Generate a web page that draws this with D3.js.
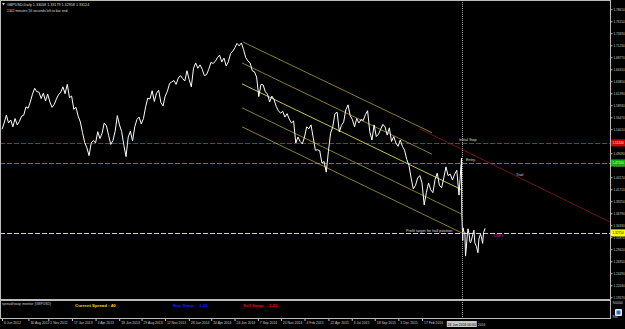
<!DOCTYPE html>
<html>
<head>
<meta charset="utf-8">
<script src="https://cdn.jsdelivr.net/npm/d3@7"></script>
<style>
  body { margin: 0; background: #000; }
  svg text { font-family: "Liberation Sans", "DejaVu Sans", sans-serif; }
</style>
</head>
<body>
<script>
var width = 625, height = 329;

// GBPUSD weekly closes, first one on 6 Jun 2012
var firstWeek = "2012-06-06";
var weeklyCloses = [
  1.540, 1.553, 1.569, 1.553, 1.559, 1.545, 1.562, 1.549, 1.556, 1.567,
  1.569, 1.586, 1.583, 1.596, 1.612, 1.624, 1.617, 1.616, 1.603, 1.614,
  1.598, 1.612, 1.596, 1.585, 1.591, 1.602, 1.611, 1.616, 1.627, 1.613,
  1.632, 1.605, 1.608, 1.581, 1.585, 1.567, 1.555, 1.533, 1.513, 1.502,
  1.486, 1.512, 1.517, 1.512, 1.535, 1.521, 1.532, 1.553, 1.547, 1.527,
  1.509, 1.517, 1.536, 1.568, 1.549, 1.535, 1.507, 1.484, 1.524, 1.536,
  1.516, 1.545, 1.560, 1.565, 1.551, 1.562, 1.586, 1.604, 1.602, 1.619,
  1.597, 1.614, 1.620, 1.595, 1.588, 1.608, 1.618, 1.634, 1.637, 1.640,
  1.632, 1.645, 1.650, 1.644, 1.639, 1.660, 1.642, 1.627, 1.665, 1.676,
  1.665, 1.672, 1.663, 1.650, 1.652, 1.663, 1.677, 1.675, 1.679, 1.687,
  1.692, 1.678, 1.686, 1.670, 1.678, 1.695, 1.700, 1.707, 1.716, 1.711,
  1.717, 1.703, 1.687, 1.680, 1.676, 1.660, 1.658, 1.647, 1.607, 1.632,
  1.631, 1.617, 1.612, 1.596, 1.608, 1.601, 1.587, 1.578, 1.573, 1.577,
  1.565, 1.572, 1.561, 1.553, 1.557, 1.512, 1.524, 1.515, 1.510, 1.524,
  1.545, 1.541, 1.549, 1.523, 1.497, 1.498, 1.496, 1.471, 1.474, 1.452,
  1.495, 1.532, 1.545, 1.572, 1.575, 1.535, 1.548, 1.555, 1.580, 1.590,
  1.568, 1.560, 1.545, 1.562, 1.553, 1.560, 1.558, 1.570, 1.578, 1.535,
  1.518, 1.549, 1.525, 1.530, 1.540, 1.550, 1.545, 1.528, 1.543, 1.515,
  1.525, 1.512, 1.505, 1.518, 1.505, 1.497, 1.478, 1.466, 1.440, 1.418,
  1.425, 1.440, 1.445, 1.430, 1.385, 1.410, 1.430, 1.416, 1.410, 1.437,
  1.450, 1.425, 1.420, 1.440, 1.463, 1.445, 1.448, 1.436, 1.448, 1.456,
  1.405, 1.470
];
// daily closes around and after the referendum
var lateDates = ["2016-06-23", "2016-06-24", "2016-06-27", "2016-06-28", "2016-06-30",
  "2016-07-04", "2016-07-06", "2016-07-08", "2016-07-12", "2016-07-14", "2016-07-18",
  "2016-07-20", "2016-07-22", "2016-07-26", "2016-07-29", "2016-08-02", "2016-08-05",
  "2016-08-10", "2016-08-15", "2016-08-18", "2016-08-23", "2016-08-26", "2016-08-30",
  "2016-09-02", "2016-09-07"];
var lateCloses = [1.481, 1.368, 1.312, 1.338, 1.331, 1.328, 1.280, 1.293, 1.325, 1.336,
  1.322, 1.310, 1.307, 1.315, 1.324, 1.333, 1.307, 1.300, 1.287, 1.315, 1.325, 1.320,
  1.306, 1.328, 1.337];

var priceTicks = [1.78610, 1.76150, 1.73690, 1.71230, 1.68770, 1.66310, 1.63850, 1.61390,
  1.58930, 1.56470, 1.54010, 1.51550, 1.49090, 1.46630, 1.44170, 1.41710, 1.39250,
  1.36790, 1.34330, 1.31870, 1.29410, 1.26950, 1.24490, 1.22030, 1.19570];

var dateTicks = ["2012-06-06", "2012-08-30", "2012-11-02", "2013-01-17", "2013-04-03",
  "2013-06-18", "2013-08-29", "2013-11-12", "2014-01-28", "2014-04-10", "2014-06-24",
  "2014-09-07", "2014-11-20", "2015-02-04", "2015-04-22", "2015-07-06", "2015-09-18",
  "2015-12-03", "2016-02-17"];
var dateTickLabels = ["6 Jun 2012", "30 Aug 2012", "2 Nov 2012", "17 Jan 2013", "3 Apr 2013",
  "18 Jun 2013", "29 Aug 2013", "12 Nov 2013", "28 Jan 2014", "10 Apr 2014", "24 Jun 2014",
  "7 Sep 2014", "20 Nov 2014", "4 Feb 2015", "22 Apr 2015", "6 Jul 2015", "18 Sep 2015",
  "3 Dec 2015", "17 Feb 2016"];

// horizontal trade levels
var levelNames = ["Initial Stop", "Entry", "Profit target for half position"];
var levelPrices = [1.51200, 1.47100, 1.32750];
var levelColors = ["#b82020", "#2e9a44", "#dede70"];
var levelBoxColors = ["#d00000", "#10b010", "#ffff00"];

// channel lines: [start date, start price, end date, end price]
var channelLines = [
  ["2014-07-21", 1.719, "2016-03-20", 1.533],
  ["2014-07-18", 1.676, "2016-03-20", 1.489],
  ["2014-07-18", 1.633, "2016-06-24", 1.416],
  ["2014-07-18", 1.584, "2016-06-24", 1.366],
  ["2014-07-18", 1.545, "2016-06-24", 1.3275]
];
var trailLine = ["2016-02-10", 1.541, "2017-10-13", 1.350];
var cursorDate = "2016-06-24";

var parse = d3.timeParse("%Y-%m-%d");

var svg = d3.select("body").append("svg")
    .attr("width", width)
    .attr("height", height)
    .style("display", "block")
    .style("background", "#000");

var x = d3.scaleTime()
    .domain([parse("2012-06-06"), parse("2016-02-17")])
    .range([2, 422]);
var y = d3.scaleLinear()
    .domain([1.805, 1.190])
    .range([0, 300]);

svg.append("clipPath").attr("id", "main")
  .append("rect").attr("x", 0).attr("y", 0).attr("width", 610).attr("height", 300);

var plot = svg.append("g").attr("clip-path", "url(#main)");

// level lines
levelPrices.forEach(function(p, i) {
  plot.append("line")
      .attr("x1", 0).attr("x2", 610)
      .attr("y1", Math.round(y(p)) + 0.5).attr("y2", Math.round(y(p)) + 0.5)
      .attr("stroke", levelColors[i])
      .attr("stroke-width", 1)
      .attr("stroke-dasharray", "5,2");
});

// channel
channelLines.forEach(function(c, i) {
  plot.append("line")
      .attr("x1", x(parse(c[0]))).attr("y1", y(c[1]))
      .attr("x2", x(parse(c[2]))).attr("y2", y(c[3]))
      .attr("stroke", i == 2 ? "#d6d858" : "#bdb83a")
      .attr("stroke-width", i == 2 ? 0.9 : 0.7);
});
plot.append("line")
    .attr("x1", x(parse(trailLine[0]))).attr("y1", y(trailLine[1]))
    .attr("x2", x(parse(trailLine[2]))).attr("y2", y(trailLine[3]))
    .attr("stroke", "#7a1a1a")
    .attr("stroke-width", 0.9);

// price line
var start = parse(firstWeek);
var series = weeklyCloses.map(function(v, i) {
  return { date: d3.timeDay.offset(start, i * 7), close: v };
}).concat(lateDates.map(function(d, i) {
  return { date: parse(d), close: lateCloses[i] };
}));

var line = d3.line()
    .x(function(d) { return x(d.date); })
    .y(function(d) { return y(d.close); });

plot.append("path")
    .datum(series)
    .attr("d", line)
    .attr("fill", "none")
    .attr("stroke", "#fff")
    .attr("stroke-width", 1);

// text on chart
var tf = 3.8;
plot.append("text").attr("x", 459).attr("y", y(levelPrices[0]) - 1.5)
    .attr("font-size", tf).attr("fill", "#ddd").text(levelNames[0]);
plot.append("text").attr("x", 466).attr("y", y(levelPrices[1]) - 1.5)
    .attr("font-size", tf).attr("fill", "#ddd").text(levelNames[1]);
plot.append("text").attr("x", 406).attr("y", y(levelPrices[2]) - 1.2)
    .attr("font-size", tf).attr("fill", "#ddd").text(levelNames[2]);
plot.append("text").attr("x", 516).attr("y", 176)
    .attr("font-size", tf).attr("fill", "#ddd").text("Trail");
plot.append("text").attr("x", 492).attr("y", 237)
    .attr("font-size", 3.4).attr("fill", "#c040d0").text("-1268.9");

// header
svg.append("path").attr("d", "M2,3 L5,3 L3.5,5.5 Z").attr("fill", "#ccc");
svg.append("text").attr("x", 7).attr("y", 6).attr("font-size", 3.7).attr("fill", "#ddd")
    .text("GBPUSD,Daily  1.33058 1.33179 1.32958 1.33124");
svg.append("text").attr("x", 7).attr("y", 11.5).attr("font-size", 3.4).attr("fill", "#ddd")
    .text("1341 minutes 16 seconds left to bar end");

// frames
svg.append("rect").attr("x", 0.5).attr("y", 0.5).attr("width", 610).attr("height", 299)
    .attr("fill", "none").attr("stroke", "#bbb").attr("stroke-width", 1);
svg.append("rect").attr("x", 0.5).attr("y", 300.5).attr("width", 610).attr("height", 18)
    .attr("fill", "none").attr("stroke", "#bbb").attr("stroke-width", 1);

// cursor line
svg.append("line")
    .attr("x1", Math.round(x(parse(cursorDate))) + 0.5).attr("x2", Math.round(x(parse(cursorDate))) + 0.5)
    .attr("y1", 0).attr("y2", 320)
    .attr("stroke", "#ccc").attr("stroke-width", 0.8).attr("stroke-dasharray", "1,1");

// right price axis
var yAxis = d3.axisRight(y)
    .tickValues(priceTicks)
    .tickFormat(d3.format(".5f"))
    .tickSize(2)
    .tickPadding(1);
var ya = svg.append("g").attr("transform", "translate(610.5,0)").call(yAxis);
ya.select(".domain").remove();
ya.selectAll("line").attr("stroke", "#bbb");
ya.selectAll("text").attr("font-size", 3.1).attr("fill", "#ccc")
    .attr("font-family", "Liberation Sans, sans-serif");

// level boxes on axis
levelPrices.forEach(function(p, i) {
  svg.append("rect").attr("x", 611).attr("y", y(p) - 3.5).attr("width", 14).attr("height", 7)
      .attr("fill", levelBoxColors[i]);
  svg.append("text").attr("x", 612.5).attr("y", y(p) + 1.2)
      .attr("font-size", 3.1).attr("fill", i == 2 ? "#000" : "#eee")
      .text(d3.format(".5f")(p));
});

// sub window
svg.append("text").attr("x", 2).attr("y", 305).attr("font-size", 3.4).attr("fill", "#ccc")
    .text("spread/swap monitor (GBPUSD)");
svg.append("text").attr("x", 75).attr("y", 306.5).attr("font-size", 4.4).attr("font-weight", "bold")
    .attr("fill", "#ffd700").text("Current Spread :   40");
svg.append("text").attr("x", 173).attr("y", 306.5).attr("font-size", 4.4).attr("font-weight", "bold")
    .attr("fill", "#1a1aff").text("Buy Swap : -1.05");
svg.append("text").attr("x", 243).attr("y", 306.5).attr("font-size", 4.4).attr("font-weight", "bold")
    .attr("fill", "#e01010").text("Sell Swap : -1.20");
svg.append("text").attr("x", 612.5).attr("y", 304).attr("font-size", 3.1).attr("fill", "#ccc").text("900000");
svg.append("text").attr("x", 612.5).attr("y", 318).attr("font-size", 3.1).attr("fill", "#ccc").text("900");
svg.append("rect").attr("x", 615).attr("y", 309).attr("width", 7).attr("height", 7).attr("rx", 1)
    .attr("fill", "#e8eef8");
svg.append("rect").attr("x", 616.5).attr("y", 310.5).attr("width", 4).attr("height", 4)
    .attr("fill", "#3070c0");

// date axis
var xAxis = d3.axisBottom(x)
    .tickValues(dateTicks.map(parse))
    .tickFormat(function(d, i) { return dateTickLabels[i]; })
    .tickSize(2)
    .tickPadding(1);
var xa = svg.append("g").attr("transform", "translate(0,319)").call(xAxis);
xa.select(".domain").remove();
xa.selectAll("line").attr("stroke", "#bbb");
xa.selectAll("text").attr("font-size", 3.4).attr("fill", "#ccc")
    .attr("text-anchor", "start").attr("dx", 1.5)
    .attr("font-family", "Liberation Sans, sans-serif");

// cursor date box
var cx = x(parse(cursorDate));
svg.append("rect").attr("x", cx - 15).attr("y", 321).attr("width", 30).attr("height", 6)
    .attr("fill", "#c8c8c8");
svg.append("text").attr("x", cx).attr("y", 325.5).attr("text-anchor", "middle")
    .attr("font-size", 3.4).attr("fill", "#000").text("24 Jun 2016 00:00");
svg.append("text").attr("x", cx + 16).attr("y", 325.5)
    .attr("font-size", 3.4).attr("fill", "#ccc").text("2016");
</script>
</body>
</html>
